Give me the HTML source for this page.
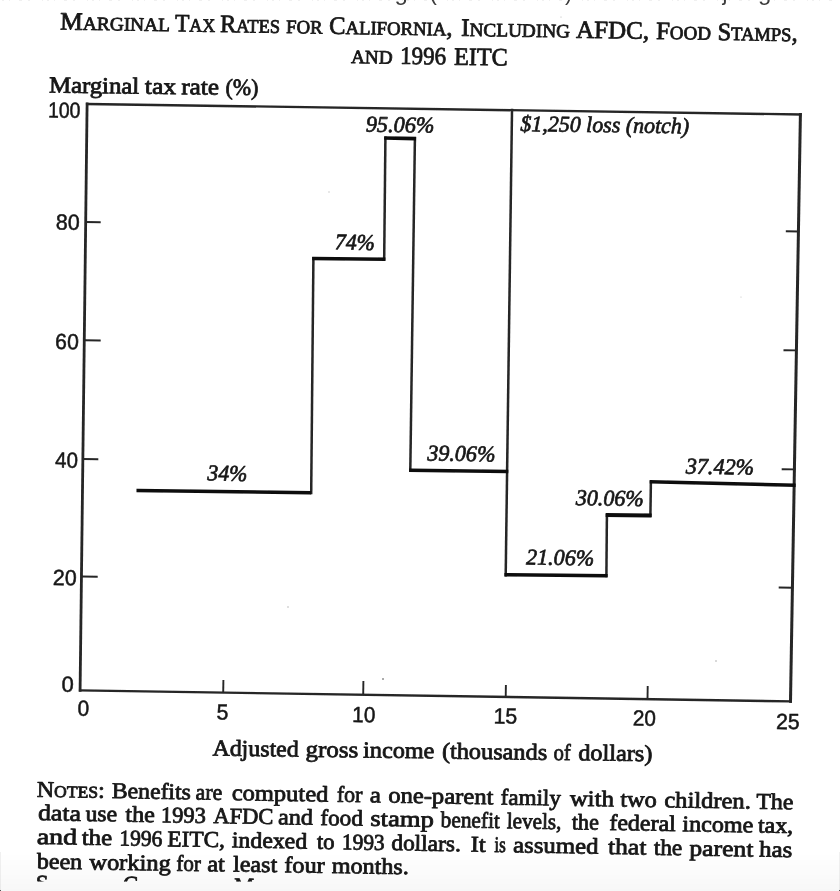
<!DOCTYPE html>
<html><head><meta charset="utf-8"><title>Marginal Tax Rates for California</title>
<style>
html,body{margin:0;padding:0;background:#fff;}
body{width:840px;height:891px;overflow:hidden;position:relative;}
svg{position:absolute;left:0;top:0;display:block;}
text{font-family:"Liberation Serif",serif;fill:#161616;stroke:#161616;stroke-width:0.8px;stroke-linejoin:round;}
text.i{font-style:italic;stroke-width:0.7px;}
text.n{font-family:"Liberation Sans",sans-serif;stroke-width:0.5px;}
text.top{font-family:"Liberation Sans",sans-serif;stroke:none;fill:#3a3a3a;}
.shade{position:absolute;left:0;right:0;bottom:0;height:39px;background:linear-gradient(to bottom,rgba(0,0,0,0) 0%,rgba(0,0,0,0.012) 40%,rgba(0,0,0,0.032) 100%);}
.edge{position:absolute;bottom:0;width:1px;height:39px;background:rgba(0,0,0,0.06);}
.corner{position:absolute;bottom:0;width:1px;height:1.5px;background:#555;}
</style></head><body>
<svg width="840" height="891" viewBox="0 0 840 891">
<defs>
<filter id="b" x="-2%" y="-2%" width="104%" height="104%"><feGaussianBlur stdDeviation="0.7"/></filter>
<clipPath id="cl"><rect x="0" y="0" width="840" height="881.4"/></clipPath>
</defs>
<g filter="url(#b)">
<g>
<text class="top" x="394.5" y="0.3" font-size="24">g</text>
<text class="top" x="429.5" y="0.3" font-size="22">(</text>
<text class="top" x="565" y="0.3" font-size="22">)</text>
<text class="top" x="722.5" y="0.3" font-size="22">j</text>
<text class="top" x="758" y="0.3" font-size="24">g</text>
<line x1="2" y1="0.2" x2="838" y2="0.2" stroke="#888" stroke-width="1.4" stroke-dasharray="2 5 1 9 3 6 2 12 1 4" stroke-opacity="0.13"/>
</g>
<line x1="87.1" y1="104.0" x2="800.4" y2="114.5" stroke="#262626" stroke-width="2.3" stroke-linecap="square"/>
<line x1="80.1" y1="690.4" x2="790.5" y2="701.4" stroke="#262626" stroke-width="2.4" stroke-linecap="square"/>
<line x1="87.1" y1="104.0" x2="80.1" y2="690.4" stroke="#262626" stroke-width="2.8" stroke-linecap="square"/>
<line x1="800.4" y1="114.5" x2="790.5" y2="701.4" stroke="#262626" stroke-width="3.0" stroke-linecap="square"/>
<line x1="85.8" y1="222" x2="100.7" y2="222.2" stroke="#262626" stroke-width="1.9" stroke-linecap="butt"/>
<line x1="84.6" y1="340.3" x2="100.7" y2="340.5" stroke="#262626" stroke-width="1.9" stroke-linecap="butt"/>
<line x1="83.5" y1="459" x2="98.3" y2="459.2" stroke="#262626" stroke-width="1.9" stroke-linecap="butt"/>
<line x1="81.7" y1="576.5" x2="97.7" y2="576.7" stroke="#262626" stroke-width="1.9" stroke-linecap="butt"/>
<line x1="785.8" y1="231.3" x2="799" y2="231.5" stroke="#262626" stroke-width="1.9" stroke-linecap="butt"/>
<line x1="783.5" y1="350.2" x2="797" y2="350.4" stroke="#262626" stroke-width="1.9" stroke-linecap="butt"/>
<line x1="781.7" y1="469.2" x2="795.4" y2="469.4" stroke="#262626" stroke-width="1.9" stroke-linecap="butt"/>
<line x1="778.7" y1="587.5" x2="793" y2="587.7" stroke="#262626" stroke-width="1.9" stroke-linecap="butt"/>
<line x1="223.39999999999998" y1="680" x2="223.2" y2="692.7" stroke="#262626" stroke-width="1.9" stroke-linecap="butt"/>
<line x1="363.4" y1="681" x2="363.2" y2="694.9" stroke="#262626" stroke-width="1.9" stroke-linecap="butt"/>
<line x1="505.9" y1="685" x2="505.7" y2="697.2" stroke="#262626" stroke-width="1.9" stroke-linecap="butt"/>
<line x1="647.7" y1="686" x2="647.5" y2="699.4" stroke="#262626" stroke-width="1.9" stroke-linecap="butt"/>
<line x1="311.18" y1="494.3" x2="313.42" y2="256.9" stroke="#262626" stroke-width="2.5" stroke-linecap="butt"/>
<line x1="384.18" y1="260.8" x2="385.42" y2="136.4" stroke="#262626" stroke-width="2.5" stroke-linecap="butt"/>
<line x1="414.92" y1="137.0" x2="410.28" y2="471.8" stroke="#262626" stroke-width="2.5" stroke-linecap="butt"/>
<line x1="512.02" y1="108.7" x2="505.68" y2="576.4" stroke="#262626" stroke-width="2.5" stroke-linecap="butt"/>
<line x1="606.39" y1="577.3" x2="606.91" y2="513.4" stroke="#262626" stroke-width="2.5" stroke-linecap="butt"/>
<line x1="650.38" y1="517.1" x2="650.92" y2="480.3" stroke="#262626" stroke-width="2.5" stroke-linecap="butt"/>
<line x1="136.5" y1="490.5" x2="311.2" y2="492.7" stroke="#0c0c0c" stroke-width="3.5" stroke-linecap="butt"/>
<line x1="312.2" y1="258.49" x2="385.4" y2="259.21" stroke="#0c0c0c" stroke-width="3.5" stroke-linecap="butt"/>
<line x1="384.2" y1="137.98" x2="416.1" y2="138.62" stroke="#0c0c0c" stroke-width="3.7" stroke-linecap="butt"/>
<line x1="409.1" y1="470.19" x2="508.3" y2="471.41" stroke="#0c0c0c" stroke-width="3.5" stroke-linecap="butt"/>
<line x1="504.5" y1="574.79" x2="607.6" y2="575.71" stroke="#0c0c0c" stroke-width="3.5" stroke-linecap="butt"/>
<line x1="605.7" y1="514.99" x2="651.6" y2="515.51" stroke="#0c0c0c" stroke-width="3.8" stroke-linecap="butt"/>
<line x1="649.7" y1="481.87" x2="795.6" y2="485.23" stroke="#0c0c0c" stroke-width="3.5" stroke-linecap="butt"/>
<circle cx="383" cy="679" r="0.9" fill="#222" fill-opacity="0.55"/>
<circle cx="288" cy="607" r="0.8" fill="#222" fill-opacity="0.35"/>
<circle cx="716" cy="661" r="0.8" fill="#222" fill-opacity="0.4"/>
<circle cx="741" cy="297" r="0.6" fill="#222" fill-opacity="0.25"/>
<circle cx="329" cy="192" r="0.7" fill="#222" fill-opacity="0.25"/>
<circle cx="561" cy="17" r="0.6" fill="#222" fill-opacity="0.3"/>
<circle cx="437" cy="27" r="0.5" fill="#222" fill-opacity="0.3"/>
<text class="t" transform="translate(60.0,29.4) rotate(0.917)" font-size="25" textLength="110.0" lengthAdjust="spacingAndGlyphs">M<tspan font-size="19">ARGINAL</tspan></text>
<text class="t" transform="translate(175.0,31.2) rotate(0.917)" font-size="25" textLength="40.0" lengthAdjust="spacingAndGlyphs">T<tspan font-size="19">AX</tspan></text>
<text class="t" transform="translate(220.0,32.0) rotate(0.917)" font-size="25" textLength="60.0" lengthAdjust="spacingAndGlyphs">R<tspan font-size="19">ATES</tspan></text>
<text class="t" transform="translate(286.0,33.0) rotate(0.917)" font-size="25" textLength="36.5" lengthAdjust="spacingAndGlyphs"><tspan font-size="19">FOR</tspan></text>
<text class="t" transform="translate(329.0,33.7) rotate(0.917)" font-size="25" textLength="123.5" lengthAdjust="spacingAndGlyphs">C<tspan font-size="19">ALIFORNIA</tspan><tspan font-size="25">,</tspan></text>
<text class="t" transform="translate(461.0,35.8) rotate(0.917)" font-size="25" textLength="109.0" lengthAdjust="spacingAndGlyphs">I<tspan font-size="19">NCLUDING</tspan></text>
<text class="t" transform="translate(576.0,37.7) rotate(0.917)" font-size="25" textLength="73.0" lengthAdjust="spacingAndGlyphs">AFDC,</text>
<text class="t" transform="translate(656.0,38.9) rotate(0.917)" font-size="25" textLength="55.0" lengthAdjust="spacingAndGlyphs">F<tspan font-size="19">OOD</tspan></text>
<text class="t" transform="translate(717.5,39.9) rotate(0.917)" font-size="25" textLength="80.0" lengthAdjust="spacingAndGlyphs">S<tspan font-size="19">TAMPS</tspan><tspan font-size="25">,</tspan></text>
<text class="t" transform="translate(351.0,63.0) rotate(0.917)" font-size="25" textLength="41.5" lengthAdjust="spacingAndGlyphs"><tspan font-size="19">AND</tspan></text>
<text class="t" transform="translate(400.0,63.8) rotate(0.917)" font-size="25" textLength="46.0" lengthAdjust="spacingAndGlyphs">1996</text>
<text class="t" transform="translate(454.0,64.7) rotate(0.917)" font-size="25" textLength="53.5" lengthAdjust="spacingAndGlyphs">EITC</text>
<text class="t" transform="translate(49.0,92.5) rotate(0.716)" font-size="23" textLength="90.2" lengthAdjust="spacingAndGlyphs">Marginal</text>
<text class="t" transform="translate(144.8,93.7) rotate(0.716)" font-size="23" textLength="31.3" lengthAdjust="spacingAndGlyphs">tax</text>
<text class="t" transform="translate(181.2,94.2) rotate(0.716)" font-size="23" textLength="37.9" lengthAdjust="spacingAndGlyphs">rate</text>
<text class="t" transform="translate(225.4,94.7) rotate(0.716)" font-size="23" textLength="32.9" lengthAdjust="spacingAndGlyphs">(%)</text>
<text class="t" transform="translate(212.4,755.6) rotate(0.716)" font-size="23" textLength="86.2" lengthAdjust="spacingAndGlyphs">Adjusted</text>
<text class="t" transform="translate(305.4,756.8) rotate(0.716)" font-size="23" textLength="52.7" lengthAdjust="spacingAndGlyphs">gross</text>
<text class="t" transform="translate(363.1,757.5) rotate(0.716)" font-size="23" textLength="71.2" lengthAdjust="spacingAndGlyphs">income</text>
<text class="t" transform="translate(441.9,758.5) rotate(0.716)" font-size="23" textLength="105.2" lengthAdjust="spacingAndGlyphs">(thousands</text>
<text class="t" transform="translate(553.4,759.9) rotate(0.716)" font-size="23" textLength="17.2" lengthAdjust="spacingAndGlyphs">of</text>
<text class="t" transform="translate(578.2,760.2) rotate(0.716)" font-size="23" textLength="74.1" lengthAdjust="spacingAndGlyphs">dollars)</text>
<text class="n" transform="translate(47.9,117.5) rotate(0.859)" font-size="22" textLength="32.4" lengthAdjust="spacingAndGlyphs">100</text>
<text class="n" transform="translate(55.8,229.5) rotate(0.859)" font-size="22" textLength="23.8" lengthAdjust="spacingAndGlyphs">80</text>
<text class="n" transform="translate(55.1,349.0) rotate(0.859)" font-size="22" textLength="23.6" lengthAdjust="spacingAndGlyphs">60</text>
<text class="n" transform="translate(55.1,467.5) rotate(0.859)" font-size="22" textLength="22.8" lengthAdjust="spacingAndGlyphs">40</text>
<text class="n" transform="translate(52.8,585.0) rotate(0.859)" font-size="22" textLength="23.8" lengthAdjust="spacingAndGlyphs">20</text>
<text class="n" transform="translate(61.4,691.8) rotate(0.859)" font-size="22" textLength="12.2" lengthAdjust="spacingAndGlyphs">0</text>
<text class="n" transform="translate(77.5,715.8) rotate(0.859)" font-size="22" textLength="11.6" lengthAdjust="spacingAndGlyphs">0</text>
<text class="n" transform="translate(216.6,719.5) rotate(0.859)" font-size="22" textLength="11.8" lengthAdjust="spacingAndGlyphs">5</text>
<text class="n" transform="translate(352.1,722.0) rotate(0.859)" font-size="22" textLength="23.2" lengthAdjust="spacingAndGlyphs">10</text>
<text class="n" transform="translate(493.4,723.4) rotate(0.859)" font-size="22" textLength="23.7" lengthAdjust="spacingAndGlyphs">15</text>
<text class="n" transform="translate(632.8,725.6) rotate(0.859)" font-size="22" textLength="23.1" lengthAdjust="spacingAndGlyphs">20</text>
<text class="n" transform="translate(775.9,728.9) rotate(0.859)" font-size="22" textLength="23.6" lengthAdjust="spacingAndGlyphs">25</text>
<text class="i" transform="translate(207.2,480.3) rotate(0.859)" font-size="22.5" textLength="40.1" lengthAdjust="spacingAndGlyphs">34%</text>
<text class="i" transform="translate(334.7,249.3) rotate(0.859)" font-size="22.5" textLength="40.1" lengthAdjust="spacingAndGlyphs">74%</text>
<text class="i" transform="translate(365.7,131.6) rotate(0.859)" font-size="22.5" textLength="68.6" lengthAdjust="spacingAndGlyphs">95.06%</text>
<text class="i" transform="translate(427.2,460.4) rotate(0.859)" font-size="22.5" textLength="68.1" lengthAdjust="spacingAndGlyphs">39.06%</text>
<text class="i" transform="translate(526.1,564.4) rotate(0.859)" font-size="22.5" textLength="67.9" lengthAdjust="spacingAndGlyphs">21.06%</text>
<text class="i" transform="translate(575.7,505.0) rotate(0.859)" font-size="22.5" textLength="68.0" lengthAdjust="spacingAndGlyphs">30.06%</text>
<text class="i" transform="translate(685.7,473.6) rotate(0.859)" font-size="22.5" textLength="68.3" lengthAdjust="spacingAndGlyphs">37.42%</text>
<text class="i" transform="translate(520.3,131.0) rotate(0.859)" font-size="22.5" textLength="168.7" lengthAdjust="spacingAndGlyphs">$1,250 loss (notch)</text>
<text class="t" transform="translate(36.7,796.7) rotate(0.962)" font-size="22.5" textLength="67.9" lengthAdjust="spacingAndGlyphs">N<tspan font-size="16.5">OTES</tspan>:</text>
<text class="t" transform="translate(111.7,798.0) rotate(0.962)" font-size="22.5" textLength="79.1" lengthAdjust="spacingAndGlyphs">Benefits</text>
<text class="t" transform="translate(195.5,799.4) rotate(0.962)" font-size="22.5" textLength="26.6" lengthAdjust="spacingAndGlyphs">are</text>
<text class="t" transform="translate(231.7,800.0) rotate(0.962)" font-size="22.5" textLength="96.6" lengthAdjust="spacingAndGlyphs">computed</text>
<text class="t" transform="translate(336.7,801.7) rotate(0.962)" font-size="22.5" textLength="25.6" lengthAdjust="spacingAndGlyphs">for</text>
<text class="t" transform="translate(369.7,802.3) rotate(0.962)" font-size="22.5" textLength="11.1" lengthAdjust="spacingAndGlyphs">a</text>
<text class="t" transform="translate(388.2,802.6) rotate(0.962)" font-size="22.5" textLength="105.1" lengthAdjust="spacingAndGlyphs">one-parent</text>
<text class="t" transform="translate(500.5,804.5) rotate(0.962)" font-size="22.5" textLength="60.3" lengthAdjust="spacingAndGlyphs">family</text>
<text class="t" transform="translate(569.7,805.7) rotate(0.962)" font-size="22.5" textLength="44.1" lengthAdjust="spacingAndGlyphs">with</text>
<text class="t" transform="translate(620.2,806.5) rotate(0.962)" font-size="22.5" textLength="36.6" lengthAdjust="spacingAndGlyphs">two</text>
<text class="t" transform="translate(664.2,807.2) rotate(0.962)" font-size="22.5" textLength="86.6" lengthAdjust="spacingAndGlyphs">children.</text>
<text class="t" transform="translate(756.2,808.8) rotate(0.962)" font-size="22.5" textLength="37.1" lengthAdjust="spacingAndGlyphs">The</text>
<text class="t" transform="translate(38.0,820.1) rotate(0.985)" font-size="22.5" textLength="42.8" lengthAdjust="spacingAndGlyphs">data</text>
<text class="t" transform="translate(85.5,820.9) rotate(0.985)" font-size="22.5" textLength="31.6" lengthAdjust="spacingAndGlyphs">use</text>
<text class="t" transform="translate(125.2,821.6) rotate(0.985)" font-size="22.5" textLength="29.6" lengthAdjust="spacingAndGlyphs">the</text>
<text class="t" transform="translate(160.7,822.2) rotate(0.985)" font-size="22.5" textLength="45.1" lengthAdjust="spacingAndGlyphs">1993</text>
<text class="t" transform="translate(213.2,823.1) rotate(0.985)" font-size="22.5" textLength="60.1" lengthAdjust="spacingAndGlyphs">AFDC</text>
<text class="t" transform="translate(278.0,824.2) rotate(0.985)" font-size="22.5" textLength="34.8" lengthAdjust="spacingAndGlyphs">and</text>
<text class="t" transform="translate(320.2,825.0) rotate(0.985)" font-size="22.5" textLength="42.6" lengthAdjust="spacingAndGlyphs">food</text>
<text class="t" transform="translate(370.2,825.8) rotate(0.985)" font-size="22.5" textLength="63.6" lengthAdjust="spacingAndGlyphs">stamp</text>
<text class="t" transform="translate(440.5,827.0) rotate(0.985)" font-size="22.5" textLength="59.3" lengthAdjust="spacingAndGlyphs">benefit</text>
<text class="t" transform="translate(506.7,828.2) rotate(0.985)" font-size="22.5" textLength="54.6" lengthAdjust="spacingAndGlyphs">levels,</text>
<text class="t" transform="translate(571.7,829.3) rotate(0.985)" font-size="22.5" textLength="27.1" lengthAdjust="spacingAndGlyphs">the</text>
<text class="t" transform="translate(609.2,829.9) rotate(0.985)" font-size="22.5" textLength="66.6" lengthAdjust="spacingAndGlyphs">federal</text>
<text class="t" transform="translate(682.2,831.2) rotate(0.985)" font-size="22.5" textLength="71.1" lengthAdjust="spacingAndGlyphs">income</text>
<text class="t" transform="translate(758.0,832.5) rotate(0.985)" font-size="22.5" textLength="35.1" lengthAdjust="spacingAndGlyphs">tax,</text>
<text class="t" transform="translate(36.7,843.9) rotate(1.008)" font-size="22.5" textLength="40.4" lengthAdjust="spacingAndGlyphs">and</text>
<text class="t" transform="translate(81.7,844.7) rotate(1.008)" font-size="22.5" textLength="30.4" lengthAdjust="spacingAndGlyphs">the</text>
<text class="t" transform="translate(119.2,845.4) rotate(1.008)" font-size="22.5" textLength="43.1" lengthAdjust="spacingAndGlyphs">1996</text>
<text class="t" transform="translate(167.2,846.2) rotate(1.008)" font-size="22.5" textLength="57.6" lengthAdjust="spacingAndGlyphs">EITC,</text>
<text class="t" transform="translate(231.7,847.3) rotate(1.008)" font-size="22.5" textLength="75.4" lengthAdjust="spacingAndGlyphs">indexed</text>
<text class="t" transform="translate(316.7,848.8) rotate(1.008)" font-size="22.5" textLength="17.9" lengthAdjust="spacingAndGlyphs">to</text>
<text class="t" transform="translate(341.7,849.3) rotate(1.008)" font-size="22.5" textLength="42.9" lengthAdjust="spacingAndGlyphs">1993</text>
<text class="t" transform="translate(391.2,850.1) rotate(1.008)" font-size="22.5" textLength="69.6" lengthAdjust="spacingAndGlyphs">dollars.</text>
<text class="t" transform="translate(470.5,851.5) rotate(1.008)" font-size="22.5" textLength="15.3" lengthAdjust="spacingAndGlyphs">It</text>
<text class="t" transform="translate(494.2,852.0) rotate(1.008)" font-size="22.5" textLength="11.6" lengthAdjust="spacingAndGlyphs">is</text>
<text class="t" transform="translate(513.0,852.3) rotate(1.008)" font-size="22.5" textLength="85.3" lengthAdjust="spacingAndGlyphs">assumed</text>
<text class="t" transform="translate(608.0,854.0) rotate(1.008)" font-size="22.5" textLength="38.3" lengthAdjust="spacingAndGlyphs">that</text>
<text class="t" transform="translate(653.7,854.8) rotate(1.008)" font-size="22.5" textLength="28.4" lengthAdjust="spacingAndGlyphs">the</text>
<text class="t" transform="translate(689.2,855.4) rotate(1.008)" font-size="22.5" textLength="64.1" lengthAdjust="spacingAndGlyphs">parent</text>
<text class="t" transform="translate(759.0,856.6) rotate(1.008)" font-size="22.5" textLength="33.1" lengthAdjust="spacingAndGlyphs">has</text>
<text class="t" transform="translate(36.7,868.6) rotate(0.859)" font-size="22.5" textLength="45.4" lengthAdjust="spacingAndGlyphs">been</text>
<text class="t" transform="translate(89.2,869.4) rotate(0.859)" font-size="22.5" textLength="81.6" lengthAdjust="spacingAndGlyphs">working</text>
<text class="t" transform="translate(176.2,870.7) rotate(0.859)" font-size="22.5" textLength="24.6" lengthAdjust="spacingAndGlyphs">for</text>
<text class="t" transform="translate(207.2,871.2) rotate(0.859)" font-size="22.5" textLength="17.6" lengthAdjust="spacingAndGlyphs">at</text>
<text class="t" transform="translate(233.0,871.5) rotate(0.859)" font-size="22.5" textLength="44.1" lengthAdjust="spacingAndGlyphs">least</text>
<text class="t" transform="translate(284.2,872.3) rotate(0.859)" font-size="22.5" textLength="40.4" lengthAdjust="spacingAndGlyphs">four</text>
<text class="t" transform="translate(331.7,873.0) rotate(0.859)" font-size="22.5" textLength="77.1" lengthAdjust="spacingAndGlyphs">months.</text>
<g clip-path="url(#cl)">
<text class="t" transform="translate(35.8,890.6) rotate(0.9)" font-size="22.5">S</text>
<text class="t" transform="translate(123,891.6) rotate(0.9)" font-size="22.5">C</text>
<text class="t" transform="translate(234,893.2) rotate(0.9)" font-size="22.5">M</text>
</g>
</g>
</svg>
<div class="shade"></div><div class="edge" style="left:0"></div><div class="edge" style="right:0"></div><div class="corner" style="left:0"></div><div class="corner" style="right:0"></div>
</body></html>
